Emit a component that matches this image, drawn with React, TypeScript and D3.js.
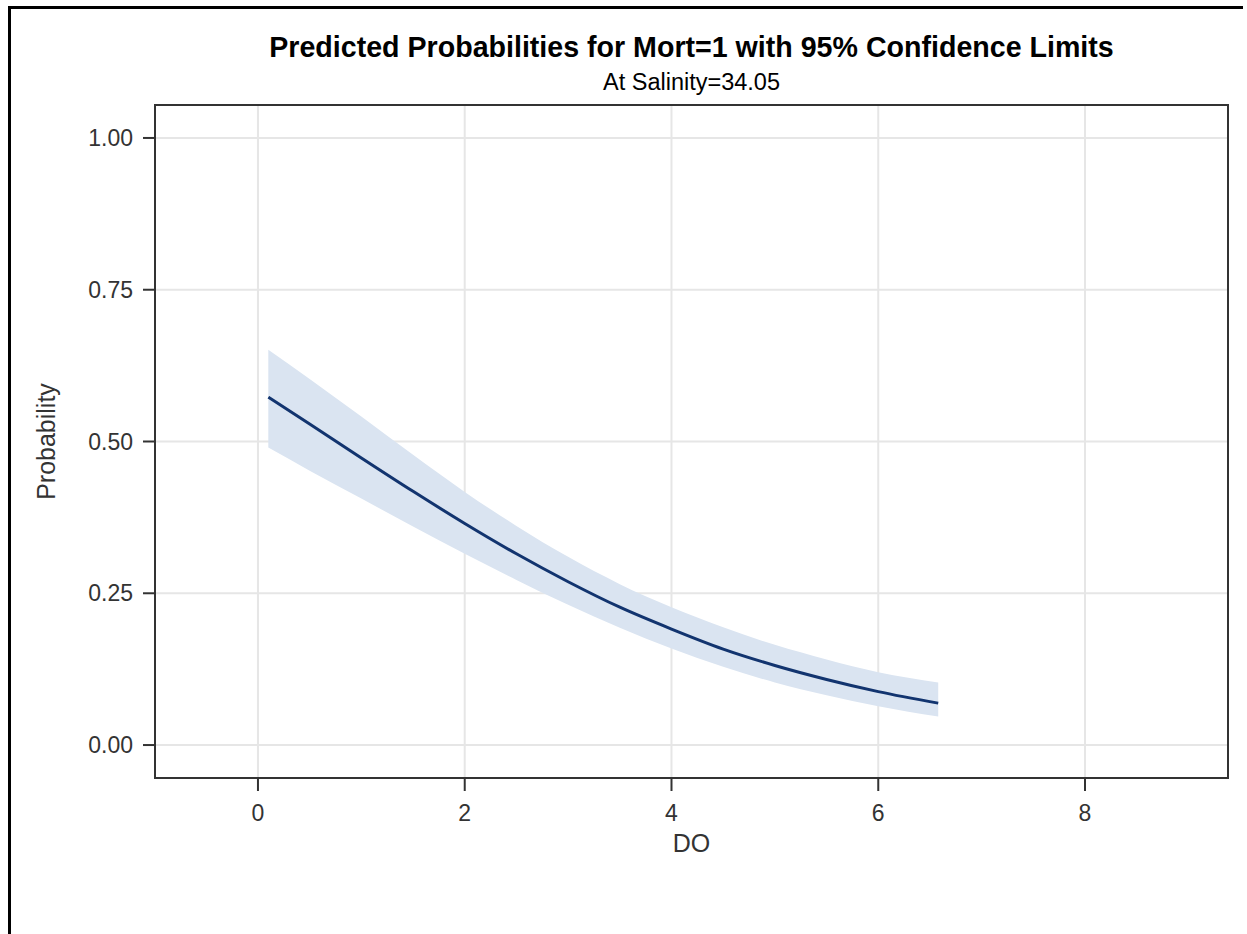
import React from "react";
import * as d3 from "d3";

const doValues = [0.1, 0.5, 1, 1.5, 2, 2.5, 3, 3.5, 4, 4.5, 5, 5.5, 6, 6.58];
const predicted = [0.573, 0.529, 0.473, 0.418, 0.365, 0.315, 0.269, 0.227, 0.191, 0.158, 0.131, 0.108, 0.088, 0.069];
const upperCL = [0.651, 0.603, 0.541, 0.478, 0.417, 0.361, 0.31, 0.265, 0.227, 0.194, 0.165, 0.141, 0.12, 0.103];
const lowerCL = [0.49, 0.452, 0.406, 0.36, 0.315, 0.272, 0.231, 0.193, 0.159, 0.129, 0.103, 0.082, 0.064, 0.047];

const xTicks = [0, 2, 4, 6, 8];
const yTicks = [0, 0.25, 0.5, 0.75, 1];

const titleText = "Predicted Probabilities for Mort=1 with 95% Confidence Limits";
const subtitleText = "At Salinity=34.05";
const xLabel = "DO";
const yLabel = "Probability";

const W = 1247;
const H = 934;
const left = 155;
const right = 1228;
const top = 105;
const bottom = 778;
const FONT = "'Liberation Sans', Arial, sans-serif";

export default function App() {
  const x = d3.scaleLinear().domain([-0.996, 9.383]).range([left, right]);
  const y = d3.scaleLinear().domain([-0.0543, 1.0543]).range([bottom, top]);

  const rows = doValues.map((d, i) => ({ d, p: predicted[i], u: upperCL[i], l: lowerCL[i] }));

  const area = d3
    .area<{ d: number; p: number; u: number; l: number }>()
    .x((r) => x(r.d))
    .y0((r) => y(r.l))
    .y1((r) => y(r.u))
    .curve(d3.curveMonotoneX);

  const line = d3
    .line<{ d: number; p: number; u: number; l: number }>()
    .x((r) => x(r.d))
    .y((r) => y(r.p))
    .curve(d3.curveMonotoneX);

  const cx = (left + right) / 2;
  const cy = (top + bottom) / 2;

  return (
    <svg
      width={W}
      height={H}
      style={{ position: "absolute", left: 0, top: 0, background: "#fff" }}
      fontFamily={FONT}
    >
      <rect x={0} y={0} width={W} height={H} fill="#fff" />
      {/* outer border (cropped) */}
      <line x1={8} y1={7.5} x2={1243} y2={7.5} stroke="#000" strokeWidth={3} />
      <line x1={9.5} y1={6} x2={9.5} y2={H} stroke="#000" strokeWidth={3} />

      {/* titles */}
      <text x={cx} y={57} textAnchor="middle" fontSize={28.6} fontWeight="bold" fill="#000">
        {titleText}
      </text>
      <text x={cx} y={90} textAnchor="middle" fontSize={23.5} fill="#000">
        {subtitleText}
      </text>

      {/* gridlines */}
      {xTicks.map((t) => (
        <line key={"gx" + t} x1={x(t)} x2={x(t)} y1={top} y2={bottom} stroke="#e6e6e6" strokeWidth={2} />
      ))}
      {yTicks.map((t) => (
        <line key={"gy" + t} x1={left} x2={right} y1={y(t)} y2={y(t)} stroke="#e6e6e6" strokeWidth={2} />
      ))}

      {/* band and line */}
      <path d={area(rows) || ""} fill="#dae4f1" />
      <path d={line(rows) || ""} fill="none" stroke="#12346f" strokeWidth={3} strokeLinejoin="round" />

      {/* frame */}
      <rect x={left} y={top} width={right - left} height={bottom - top} fill="none" stroke="#333" strokeWidth={2} />

      {/* x axis ticks */}
      {xTicks.map((t) => (
        <g key={"xt" + t}>
          <line x1={x(t)} x2={x(t)} y1={bottom} y2={bottom + 13} stroke="#333" strokeWidth={2} />
          <text x={x(t)} y={821} textAnchor="middle" fontSize={23} fill="#333">
            {d3.format("d")(t)}
          </text>
        </g>
      ))}
      {/* y axis ticks */}
      {yTicks.map((t) => (
        <g key={"yt" + t}>
          <line x1={left - 12} x2={left} y1={y(t)} y2={y(t)} stroke="#333" strokeWidth={2} />
          <text x={133} y={y(t) + 8} textAnchor="end" fontSize={23} fill="#333">
            {d3.format(".2f")(t)}
          </text>
        </g>
      ))}

      {/* axis labels */}
      <text x={cx} y={852} textAnchor="middle" fontSize={25} fill="#333">
        {xLabel}
      </text>
      <text
        transform={`translate(55,${cy}) rotate(-90)`}
        textAnchor="middle"
        fontSize={25}
        fill="#333"
      >
        {yLabel}
      </text>
    </svg>
  );
}
